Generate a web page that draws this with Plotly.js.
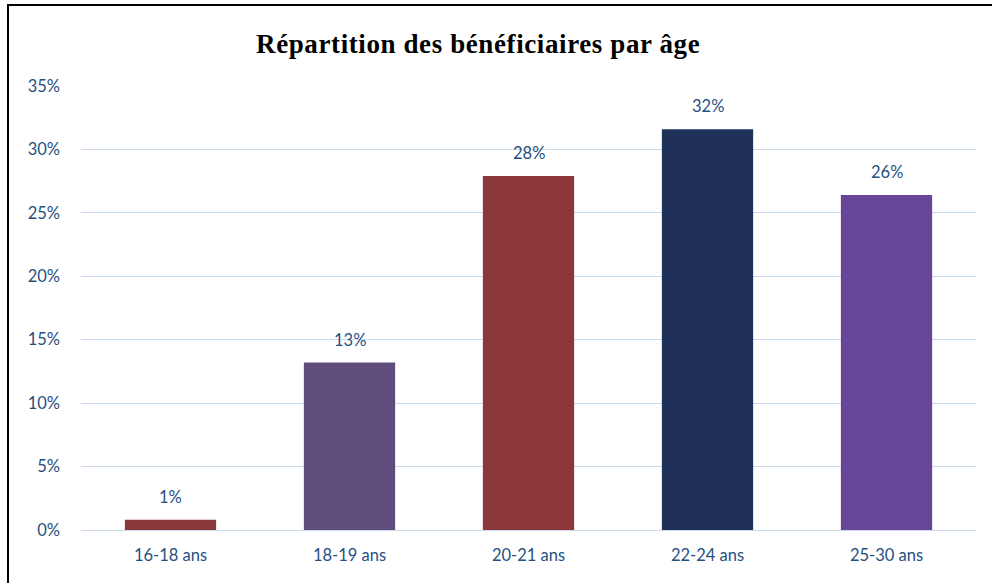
<!DOCTYPE html>
<html>
<head>
<meta charset="utf-8">
<script src="https://cdn.plot.ly/plotly-3.0.1.min.js"></script>
<style>
  html, body { margin: 0; padding: 0; background: #fff; }
  #wrap { position: relative; width: 992px; height: 583px; }
  #chart { position: absolute; left: 0; top: 0; width: 992px; height: 583px; }
  #frame { position: absolute; left: 7px; top: 4px; width: 985px; height: 579px;
           border-left: 2px solid #000; border-top: 2px solid #000; box-sizing: border-box;
           pointer-events: none; }
  #chart .gtitle { letter-spacing: 0.6px; }
</style>
</head>
<body>
<div id="wrap">
  <div id="chart"></div>
  <div id="frame"></div>
</div>
<script>
const categories = ["16-18 ans", "18-19 ans", "20-21 ans", "22-24 ans", "25-30 ans"];
const values = [0.8, 13.2, 27.9, 31.6, 26.4];
const labels = ["1%", "13%", "28%", "32%", "26%"];
const barColors = ["#8B383B", "#5E4D7D", "#8C383B", "#1F3059", "#684799"];
const yTicks = [0, 5, 10, 15, 20, 25, 30, 35];
const yTickText = ["0%", "5%", "10%", "15%", "20%", "25%", "30%", "35%"];

const labelFont = { family: "Lato, 'Open Sans', sans-serif", size: 16.5, color: "#26507F" };

const trace = {
  type: "bar",
  x: categories,
  y: values,
  marker: { color: barColors },
  width: 0.51,
  hoverinfo: "skip"
};

const annotations = categories.map((c, i) => ({
  x: c, y: values[i], text: labels[i],
  xref: "x", yref: "y",
  showarrow: false, yanchor: "middle", yshift: 23,
  font: labelFont
}));

const layout = {
  width: 992, height: 583,
  margin: { l: 81, r: 16, t: 86, b: 53 },
  paper_bgcolor: "#ffffff",
  plot_bgcolor: "#ffffff",
  showlegend: false,
  title: {
    text: "<b>Répartition des bénéficiaires par âge</b>",
    font: { family: "'Liberation Serif', 'Times New Roman', serif", size: 27, color: "#000" },
    x: 0.482, xanchor: "center", xref: "container",
    y: 1 - 44 / 583, yanchor: "middle", yref: "container"
  },
  xaxis: {
    type: "category",
    showgrid: false, showline: false, zeroline: false,
    ticks: "", tickfont: labelFont, ticklabelstandoff: 13
  },
  yaxis: {
    range: [0, 35],
    tickvals: yTicks, ticktext: yTickText,
    showgrid: true, gridcolor: "#C9DBEC", gridwidth: 1,
    zeroline: true, zerolinecolor: "#C9DBEC", zerolinewidth: 1,
    showline: false, ticks: "",
    tickfont: labelFont, ticklabelstandoff: 20
  },
  annotations: annotations
};

Plotly.newPlot("chart", [trace], layout, { displayModeBar: false, staticPlot: true });
</script>
</body>
</html>
